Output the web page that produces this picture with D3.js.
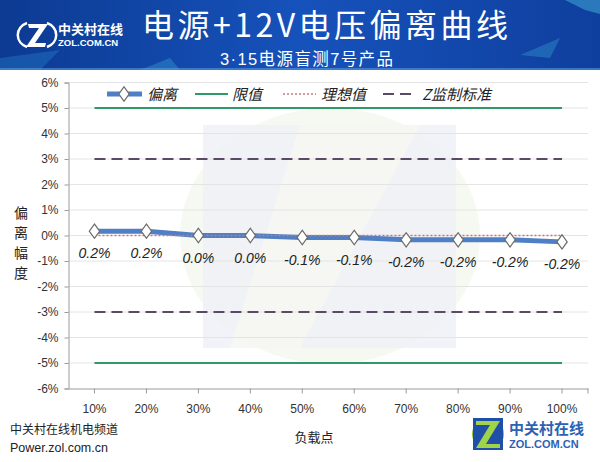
<!DOCTYPE html>
<html><head><meta charset="utf-8">
<script src="https://cdn.jsdelivr.net/npm/d3@7"></script>
<style>body{margin:0;background:#fff;}svg{display:block;font-family:"Noto Sans CJK SC","Microsoft YaHei",sans-serif;}</style>
</head><body><svg id="c" width="600" height="462"></svg>
<script>
const categories = ["10%","20%","30%","40%","50%","60%","70%","80%","90%","100%"];
const deviation = [0.17,0.17,0.0,0.0,-0.08,-0.08,-0.17,-0.17,-0.17,-0.25];
const deviationLabels = ["0.2%","0.2%","0.0%","0.0%","-0.1%","-0.1%","-0.2%","-0.2%","-0.2%","-0.2%"];
const limitValues = [5,-5];
const standardValues = [3,-3];
const idealValues = [0];
const yTicks = [6,5,4,3,2,1,0,-1,-2,-3,-4,-5,-6];
const legendItems = ["偏离","限值","理想值","Z监制标准"];

const svg = d3.select("#c");
const defs = svg.append("defs");
const g1 = defs.append("linearGradient").attr("id","ban").attr("x1","0").attr("x2","1").attr("y1","0").attr("y2","0");
g1.append("stop").attr("offset","0").attr("stop-color","#0c3a92");
g1.append("stop").attr("offset","0.5").attr("stop-color","#1652bb");
g1.append("stop").attr("offset","1").attr("stop-color","#0f3f9e");

// banner
svg.append("rect").attr("x",0).attr("y",0).attr("width",600).attr("height",70).attr("fill","url(#ban)");
svg.append("path").attr("d","M0,58 L60,50 L40,70 L0,70Z").attr("fill","#2a8ad0").attr("opacity",0.35);
svg.append("path").attr("d","M140,70 L170,58 L180,70Z").attr("fill","#3aa0d8").attr("opacity",0.4);
svg.append("path").attr("d","M520,55 L560,38 L550,58Z").attr("fill","#3aa8d8").attr("opacity",0.35);
svg.append("path").attr("d","M565,0 L600,0 L600,14 L585,10Z").attr("fill","#4ac0e0").attr("opacity",0.45);
svg.append("rect").attr("x",0).attr("y",68).attr("width",600).attr("height",2).attr("fill","#5a9ad8").attr("opacity",0.6);
// left logo
svg.append("path").attr("d","M27,23 A15,13 0 0,0 27,47").attr("fill","none").attr("stroke","#fff").attr("stroke-width",2.5);
svg.append("path").attr("d","M47,23 A15,13 0 0,1 47,47").attr("fill","none").attr("stroke","#fff").attr("stroke-width",2.5);
svg.append("path").attr("d","M28,24 L48,24 L35,43 L46,43 L45,47 L26,47 L39,28 L29,28Z").attr("fill","#fff");
svg.append("text").attr("x",58).attr("y",34).attr("fill","#fff").attr("font-size",13).attr("font-weight","bold").text("中关村在线");
svg.append("text").attr("x",58).attr("y",46).attr("fill","#fff").attr("font-size",9.5).attr("font-weight","bold").attr("font-family","Liberation Sans, Arial").text("ZOL.COM.CN");
// titles
svg.append("text").attr("x",142).attr("y",36.5).attr("fill","#fff").attr("font-size",32)
  .attr("textLength",366).attr("lengthAdjust","spacing").text("电源+12V电压偏离曲线");
const st = svg.append("text").attr("x",220).attr("y",65).attr("fill","#fff").attr("font-size",16.5)
  .attr("textLength",173).attr("lengthAdjust","spacing");
st.append("tspan").attr("font-family","Liberation Sans, Arial").text("3·15");
st.append("tspan").text("电源盲测7号产品");

// scales
const x = d3.scaleBand().domain(categories).range([68.5,588]).padding(0);
const y = d3.scaleLinear().domain([-6,6]).range([388.5,82.5]);
const cx = d => x(d) + x.bandwidth()/2;
const x0 = cx(categories[0]), x1 = cx(categories[categories.length-1]);

// watermark
const wm = svg.append("g");
wm.append("ellipse").attr("cx",330).attr("cy",236).attr("rx",150).attr("ry",128).attr("fill","#f6f9f1");
wm.append("rect").attr("x",203).attr("y",125).attr("width",253).attr("height",223).attr("fill","#eff0f8").attr("opacity",0.8);
wm.append("path").attr("d","M300,125 L420,125 L300,348 L230,348 Z").attr("fill","#fafaf0").attr("opacity",0.6);

// grid
svg.append("g").selectAll("line").data(yTicks.filter(t=>t!==-6)).join("line")
  .attr("x1",68.5).attr("x2",588).attr("y1",d=>y(d)).attr("y2",d=>y(d))
  .attr("stroke","#e4e4e4").attr("stroke-width",1);

// axes
const ya = svg.append("g").attr("transform","translate(68.5,0)")
  .call(d3.axisLeft(y).tickValues(yTicks).tickSize(4).tickFormat(d=>d+"%"));
ya.select(".domain").attr("stroke","#9a9a9a");
ya.selectAll(".tick line").attr("stroke","#9a9a9a");
ya.selectAll("text").attr("fill","#333").attr("font-size",12).attr("x",-10).attr("font-family","Liberation Sans, Arial");

const xa = svg.append("g").attr("transform","translate(0,388.5)")
  .call(d3.axisBottom(x).tickSize(5).tickSizeOuter(0));
xa.select(".domain").attr("stroke","#9a9a9a");
xa.selectAll(".tick line").attr("stroke","#9a9a9a");
xa.selectAll("text").attr("fill","#333").attr("font-size",12).attr("y",16).attr("font-family","Liberation Sans, Arial");
xa.append("line").attr("x1",588).attr("x2",588).attr("y1",0).attr("y2",5).attr("stroke","#9a9a9a");

// y title
const yt = "偏离幅度".split("");
svg.append("g").selectAll("text").data(yt).join("text")
  .attr("x",21).attr("y",(d,i)=>218+i*20).attr("text-anchor","middle").attr("font-size",14).attr("fill","#222").text(d=>d);
svg.append("text").attr("x",314).attr("y",442).attr("text-anchor","middle").attr("font-size",13).attr("fill","#222").text("负载点");

// reference lines
const hline = v => `M${x0},${y(v)}H${x1}`;
svg.append("g").selectAll("path").data(limitValues).join("path").attr("d",hline)
  .attr("stroke","#2f9a68").attr("stroke-width",2).attr("fill","none");
svg.append("g").selectAll("path").data(standardValues).join("path").attr("d",hline)
  .attr("stroke","#5b4a66").attr("stroke-width",2).attr("stroke-dasharray","11,6").attr("fill","none");

// deviation line
const line = d3.line().x((d,i)=>cx(categories[i])).y(d=>y(d));
svg.append("path").datum(deviation).attr("d",line).attr("fill","none").attr("stroke","#4f7fc4").attr("stroke-width",5).attr("stroke-linejoin","round");
svg.append("g").selectAll("path").data(idealValues).join("path").attr("d",hline)
  .attr("stroke","#c77a7a").attr("stroke-width",1.3).attr("stroke-dasharray","2,2").attr("fill","none");
const diamond = d3.symbol().type(d3.symbolDiamond).size(60);
svg.append("g").selectAll("path").data(deviation).join("path")
  .attr("transform",(d,i)=>`translate(${cx(categories[i])},${y(d)}) scale(1.25,1)`)
  .attr("d",diamond).attr("fill","#fff").attr("stroke","#6a6a6a").attr("stroke-width",1);
svg.append("g").selectAll("text").data(deviation).join("text")
  .attr("x",(d,i)=>cx(categories[i])).attr("y",d=>y(d)+27).attr("text-anchor","middle")
  .attr("font-size",14).attr("font-style","italic").attr("fill","#222").attr("font-family","Liberation Sans, Arial")
  .text((d,i)=>deviationLabels[i]);

// legend
const lg = svg.append("g");
const ly = 94;
lg.append("line").attr("x1",107).attr("x2",142).attr("y1",ly).attr("y2",ly).attr("stroke","#4f7fc4").attr("stroke-width",5);
lg.append("path").attr("transform",`translate(124,${ly}) scale(1.25,1)`).attr("d",diamond).attr("fill","#fff").attr("stroke","#6a6a6a");
lg.append("line").attr("x1",195).attr("x2",228).attr("y1",ly).attr("y2",ly).attr("stroke","#2f9a68").attr("stroke-width",2);
lg.append("line").attr("x1",283).attr("x2",316).attr("y1",ly).attr("y2",ly).attr("stroke","#c77a7a").attr("stroke-width",1.3).attr("stroke-dasharray","2,2");
lg.append("line").attr("x1",383).attr("x2",412).attr("y1",ly).attr("y2",ly).attr("stroke","#5b4a66").attr("stroke-width",2).attr("stroke-dasharray","11,6");
const lx = [147,232,321,422];
lg.selectAll("text").data(legendItems).join("text").attr("x",(d,i)=>lx[i]).attr("y",ly+5.5)
  .attr("font-size",15).attr("font-style","italic").attr("fill","#222").text(d=>d);

// footer
svg.append("text").attr("x",10).attr("y",434).attr("font-size",12).attr("fill","#222").text("中关村在线机电频道");
svg.append("text").attr("x",10).attr("y",452).attr("font-size",12.5).attr("fill","#222").attr("font-family","Liberation Sans, Arial").text("Power.zol.com.cn");

// bottom-right logo
const bl = svg.append("g");
bl.append("circle").attr("cx",488).attr("cy",434).attr("r",16).attr("fill","#8cc63f");
bl.append("rect").attr("x",473).attr("y",418).attr("width",30).attr("height",32).attr("fill","#1f4fa8");
bl.append("path").attr("d","M476,421 L500,421 L486,444 L500,444 L500,448 L476,448 L490,425 L476,425Z").attr("fill","#9fd34a");
bl.append("text").attr("x",509).attr("y",434).attr("font-size",15).attr("font-weight","bold").attr("fill","#2c62b4").text("中关村在线");
bl.append("text").attr("x",509).attr("y",448).attr("font-size",11).attr("font-weight","bold").attr("fill","#2c62b4").attr("font-family","Liberation Sans, Arial").text("ZOL.COM.CN");
</script></body></html>
